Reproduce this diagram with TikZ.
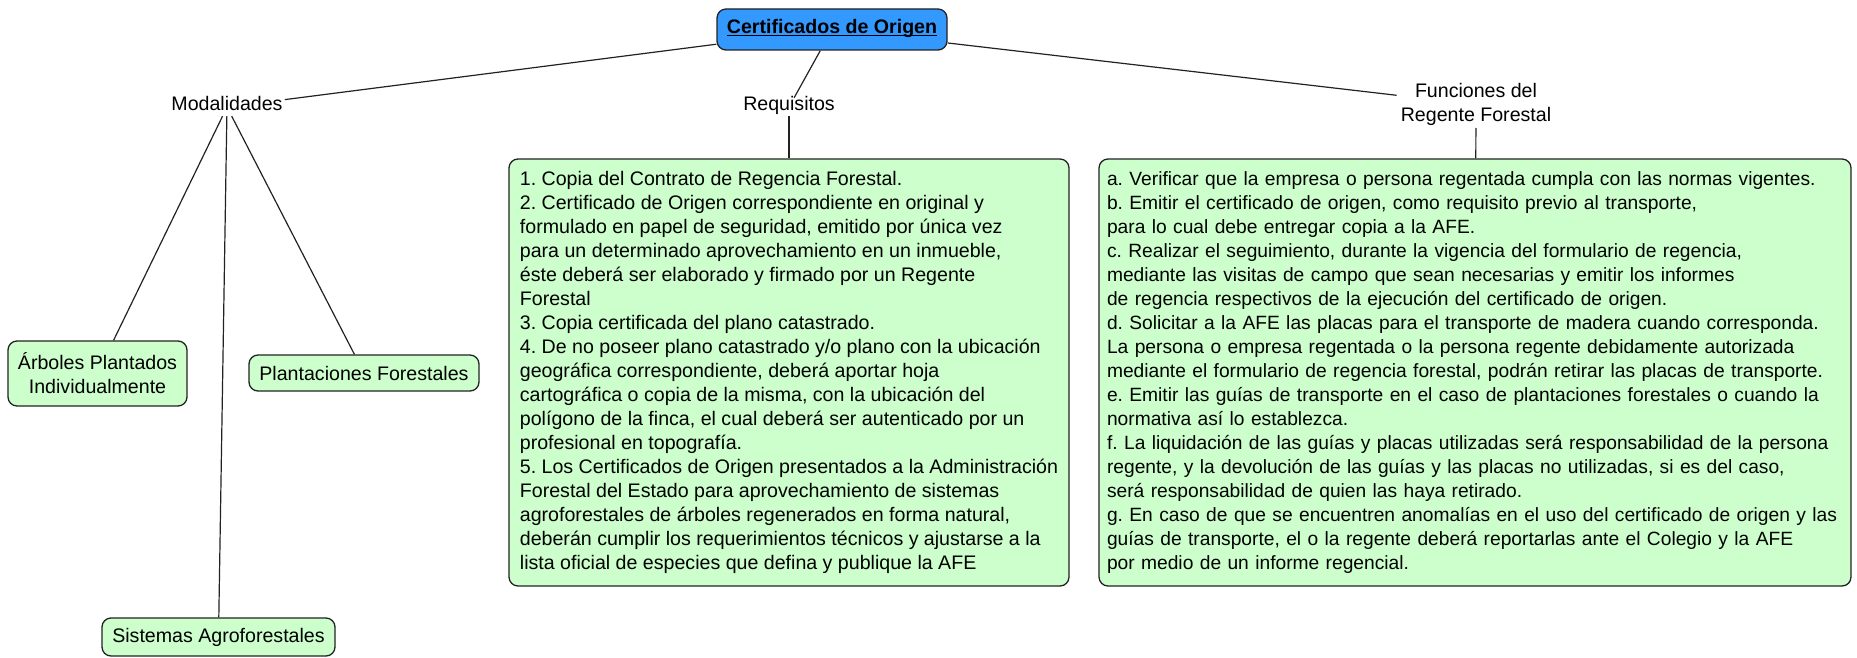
\documentclass[tikz,border=0pt]{standalone}
\usepackage{fontspec}
\setmainfont{Liberation Sans}
\frenchspacing
\hyphenpenalty=10000
\definecolor{greenfill}{HTML}{CCFFCC}
\definecolor{bluefill}{HTML}{3399FF}
\definecolor{edge}{HTML}{222222}
\begin{document}
\begin{tikzpicture}[x=1pt,y=-1pt,
  every node/.style={font=\fontsize{19.6}{22.6}\selectfont, text=black},
  concept/.style={draw=edge, line width=1.3pt, rounded corners=9pt, fill=greenfill, inner sep=0pt, align=center},
  rootbox/.style={draw=edge, line width=1.3pt, rounded corners=9pt, fill=bluefill, inner sep=0pt, text height=13pt, text depth=5pt},
  linkword/.style={inner xsep=2pt, inner ysep=0pt, text height=13pt, text depth=5pt},
  conn/.style={draw=edge, line width=1.2pt}
]
\useasboundingbox (0,0) rectangle (1857,658);

% root
\node[rootbox, minimum width=230pt, minimum height=41pt, anchor=base] (root) at (832,33.5)
  {\underline{\smash{\textbf{Certificados de Origen}}}};

% linking phrases
\node[linkword, anchor=base] (mod) at (227,111) {Modalidades};
\node[linkword, anchor=base] (req) at (789,111) {Requisitos};
\node[align=center, inner xsep=4pt, inner ysep=2pt, anchor=south,
      font=\fontsize{19.6}{24.4}\selectfont] (fun) at (1476,128) {Funciones del\\Regente Forestal};

% modalidades concepts
\node[concept, minimum width=179pt, minimum height=65pt, font=\fontsize{19.6}{24}\selectfont] (arb) at (97.5,373.5)
  {Árboles Plantados\\Individualmente};
\node[concept, minimum width=230pt, minimum height=36pt] (pla) at (364,373) {Plantaciones Forestales};
\node[concept, minimum width=233pt, minimum height=38pt] (sis) at (218.5,637) {Sistemas Agroforestales};

% requisitos box
\node[concept, align=left, minimum width=560pt, minimum height=427pt,
      font=\fontsize{19.6}{24}\selectfont] (reqbox) at (789,372.5)
  {1. Copia del Contrato de Regencia Forestal.\\
   2. Certificado de Origen correspondiente en original y\\
   formulado en papel de seguridad, emitido por única vez\\
   para un determinado aprovechamiento en un inmueble,\\
   éste deberá ser elaborado y firmado por un Regente\\
   Forestal\\
   3. Copia certificada del plano catastrado.\\
   4. De no poseer plano catastrado y/o plano con la ubicación\\
   geográfica correspondiente, deberá aportar hoja\\
   cartográfica o copia de la misma, con la ubicación del\\
   polígono de la finca, el cual deberá ser autenticado por un\\
   profesional en topografía.\\
   5. Los Certificados de Origen presentados a la Administración\\
   Forestal del Estado para aprovechamiento de sistemas\\
   agroforestales de árboles regenerados en forma natural,\\
   deberán cumplir los requerimientos técnicos y ajustarse a la\\
   lista oficial de especies que defina y publique la AFE};

% funciones box
\node[concept, align=left, text width=736pt, inner xsep=8pt, minimum height=427pt,
      font=\fontsize{19.2}{24}\selectfont] (funbox) at (1475,372.5)
  {a. Verificar que la empresa o persona regentada cumpla con las normas vigentes.\\
   b. Emitir el certificado de origen, como requisito previo al transporte,\\
   para lo cual debe entregar copia a la AFE.\\
   c. Realizar el seguimiento, durante la vigencia del formulario de regencia,\\
   mediante las visitas de campo que sean necesarias y emitir los informes\\
   de regencia respectivos de la ejecución del certificado de origen.\\
   d. Solicitar a la AFE las placas para el transporte de madera cuando corresponda.\\
   La persona o empresa regentada o la persona regente debidamente autorizada\\
   mediante el formulario de regencia forestal, podrán retirar las placas de transporte.\\
   e. Emitir las guías de transporte en el caso de plantaciones forestales o cuando la\\
   normativa así lo establezca.\\
   f. La liquidación de las guías y placas utilizadas será responsabilidad de la persona\\
   regente, y la devolución de las guías y las placas no utilizadas, si es del caso,\\
   será responsabilidad de quien las haya retirado.\\
   g. En caso de que se encuentren anomalías en el uso del certificado de origen y las\\
   guías de transporte, el o la regente deberá reportarlas ante el Colegio y la AFE\\
   por medio de un informe regencial.};

% connectors
\draw[conn] (root) -- (mod);
\draw[conn] (root) -- (req);
\draw[conn] (root) -- (fun);
\draw[conn] (mod) -- (arb);
\draw[conn] (mod) -- (pla);
\draw[conn] (mod) -- (sis);
\draw[conn] (req) -- (reqbox);
\draw[conn] (fun) -- (funbox);
\end{tikzpicture}
\end{document}
